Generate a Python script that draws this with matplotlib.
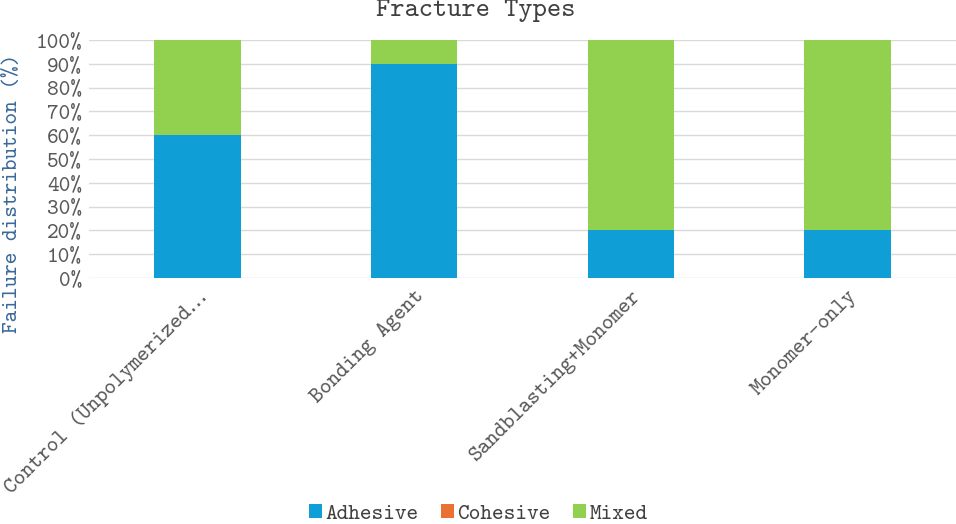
import matplotlib
matplotlib.use("Agg")
import matplotlib.pyplot as plt
import numpy as np
from matplotlib.ticker import PercentFormatter

# ----------------------------
# 資料
# ----------------------------
groups = ["Control (Unpolymerized\u2026", "Bonding Agent", "Sandblasting+Monomer", "Monomer-only"]
adhesive = [60, 90, 20, 20]
cohesive = [0, 0, 0, 0]
mixed = [40, 10, 80, 80]

series_names = ["Adhesive", "Cohesive", "Mixed"]
series_colors = ["#0F9ED5", "#E97132", "#92D050"]

plt.rcParams["font.family"] = ["cmtt10", "DejaVu Sans"]
plt.rcParams["axes.unicode_minus"] = False

fig = plt.figure(figsize=(9.56, 5.24), dpi=100)
ax = fig.add_axes([89 / 956, 246 / 524, 1 - 89 / 956, 238 / 524])

x = np.arange(len(groups))
bottom = np.zeros(len(groups))
for name, vals, col in zip(series_names, [adhesive, cohesive, mixed], series_colors):
    ax.bar(x, vals, 0.4, bottom=bottom, color=col, label=name, zorder=3)
    bottom += np.array(vals)

ax.set_xlim(-0.5, len(groups) - 0.5)
ax.set_ylim(0, 100)
ax.set_yticks(np.arange(0, 101, 10))
ax.yaxis.set_major_formatter(PercentFormatter(decimals=0))
ax.grid(axis="y", color="#D9D9D9", linewidth=1, zorder=0)
for s in ax.spines.values():
    s.set_visible(False)
fs = 16
ax.tick_params(axis="both", length=0, labelsize=fs, labelcolor="#595959")
ax.tick_params(axis="y", pad=5)
ax.tick_params(axis="x", pad=6)

ax.set_xticks(x)
ax.set_xticklabels(groups, rotation=45, ha="right", rotation_mode="anchor")

ax.set_ylabel("Failure distribution (%)", fontsize=fs, color="#3A6A9A")
ax.yaxis.set_label_coords((22 - 89) / 867, 0.355)

fig.text(476 / 956, 1 - 10 / 524, "Fracture Types", ha="center", va="center",
         fontsize=19.5, color="#404040")

fig.legend(loc="center", bbox_to_anchor=(0.5, 1 - 514 / 524), ncol=3, frameon=False,
           fontsize=fs, handlelength=0.6, handleheight=0.6, handletextpad=0.15,
           columnspacing=1.0, labelcolor="#404040")

fig.savefig("out.png", dpi=100)
